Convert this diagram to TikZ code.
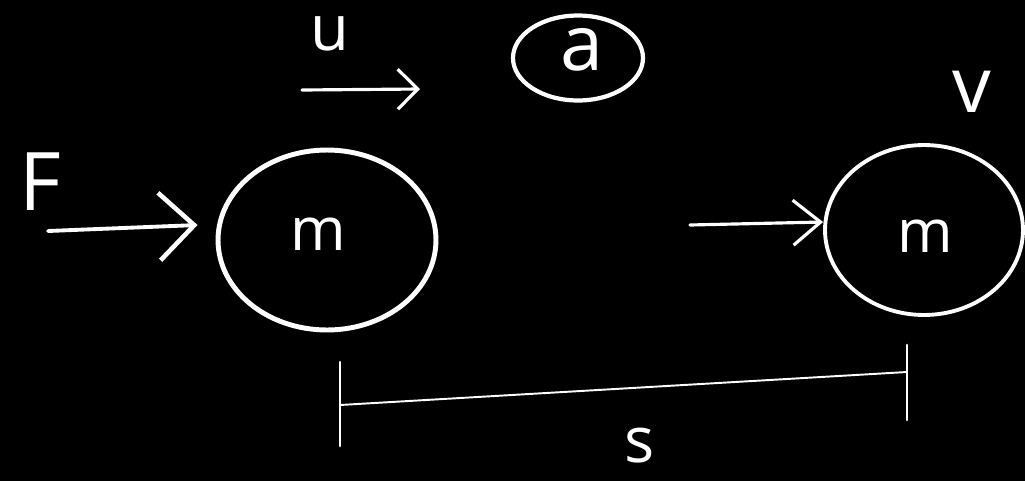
\documentclass[tikz,border=0pt]{standalone}
\usepackage{fontspec}
\setmainfont{Open Sans}
\usetikzlibrary{shapes.geometric,arrows.meta}
\begin{document}
\begin{tikzpicture}[x=0.02cm,y=-0.02cm,
  ink/.style={draw=white,line cap=round,line join=round},
  body/.style={ellipse,ink,line width=2.8pt,inner sep=0pt},
  lbl/.style={text=white,inner sep=0pt,font=\fontsize{40}{44}\selectfont},
  arr/.style={ink,line width=1.8pt},
  dim/.style={ink,line width=1.1pt}]
\fill[black] (0,0) rectangle (1025,481);
\useasboundingbox (0,0) rectangle (1025,481);
% bodies
\node[body,minimum width=4.36cm,minimum height=3.6cm] (m1) at (327,240) {};
\node[lbl,font=\fontsize{34}{40}\selectfont] (t1) at (318,234) {m};
\node[body,line width=2.2pt,minimum width=3.96cm,minimum height=3.4cm] (m2) at (924,230) {};
\node[lbl,font=\fontsize{34}{40}\selectfont] (t2) at (925,236) {m};
% acceleration
\node[ellipse,ink,line width=2.4pt,minimum width=2.6cm,minimum height=1.7cm,inner sep=0pt] (ea) at (578,58) {};
\node[lbl,font=\fontsize{44}{48}\selectfont] (ta) at (582,50) {a};
% labels
\node[lbl,font=\fontsize{36}{40}\selectfont] (tu) at (330,34) {u};
\node[lbl,font=\fontsize{46}{50}\selectfont] (tF) at (40,182) {F};
\node[lbl,font=\fontsize{44}{50}\selectfont] (tv) at (972,92) {v};
\node[lbl,font=\fontsize{36}{40}\selectfont] (ts) at (640,446) {s};
% arrows
\coordinate (fs) at (48,231);
\draw[arr,line width=2.2pt,-{Straight Barb[length=0.7cm,width=1.35cm,line width=2.6pt]}] (fs) -- ([xshift=-0.36cm,yshift=0.3cm]m1.west);
\coordinate (us) at (302,90);
\coordinate (ue) at (420,89);
\draw[arr,-{Straight Barb[length=0.4cm,width=0.8cm]}] (us) -- (ue);
\coordinate (vs) at (690,225);
\draw[arr,-{Straight Barb[length=0.55cm,width=0.9cm]}] (vs) -- ([yshift=0.16cm]m2.west);
% displacement
\coordinate (la) at (340,362);
\coordinate (lb) at (340,446);
\coordinate (ra) at (907,345);
\coordinate (rb) at (907,420);
\coordinate (lm) at (340,405);
\coordinate (rm) at (907,372);
\draw[dim,line width=1.5pt] (la) -- (lb);
\draw[dim,line width=1.5pt] (ra) -- (rb);
\draw[dim] (lm) -- (rm);
\end{tikzpicture}
\end{document}
